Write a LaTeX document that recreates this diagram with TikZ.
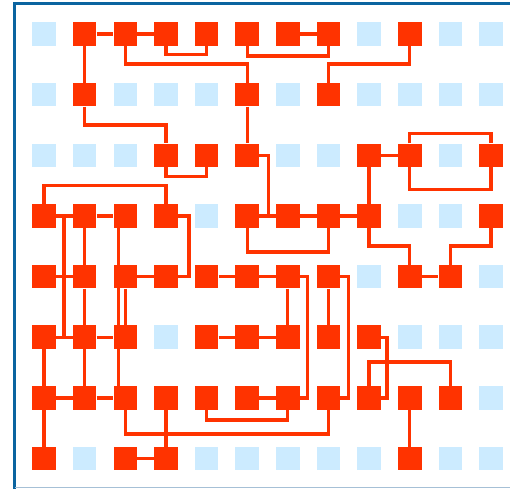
\documentclass[tikz,border=0pt]{standalone}
\usepackage{tikz}
\usetikzlibrary{backgrounds}
\definecolor{wirered}{HTML}{FF3300}
\definecolor{padblue}{HTML}{CCEBFF}
\definecolor{frameblue}{HTML}{0B64A0}
\definecolor{framelight}{HTML}{A6C0D6}

\begin{document}
\begin{tikzpicture}[x=40.64pt,y=-60.64pt,
  pad/.style={fill=padblue,minimum size=23.5pt,inner sep=0pt},
  cell/.style={fill=wirered,minimum size=23.5pt,inner sep=0pt},
  w/.style={draw=wirered,line width=3.3pt}]
  \useasboundingbox (-44pt,34pt) rectangle (466pt,-454pt);
  % frame
  \draw[frameblue,line width=2.6pt] (466pt,30.4pt) -- (-29.5pt,30.4pt) -- (-29.5pt,-455pt);
  \draw[framelight,line width=1pt] (-29.5pt,-453.4pt) -- (466pt,-453.4pt);
  % pads, then the used cells on top
  \foreach \j in {0,...,7}
    \foreach \i in {0,...,11}
      \node[pad] (n\i-\j) at (\i,\j) {};
  \foreach \j/\on in {0/{1,2,3,4,5,6,7,9},1/{1,5,7},2/{3,4,5,8,9,11},
      3/{0,1,2,3,5,6,7,8,11},4/{0,1,2,3,4,5,6,7,9,10},
      5/{0,1,2,4,5,6,7,8},6/{0,1,2,3,4,5,6,7,8,9,10},7/{0,2,3,9}}
    \foreach \i in \on
      \node[cell] (n\i-\j) at (\i,\j) {};
  \begin{scope}[on background layer]
    % row 0
    \draw[w] (n1-0) -- (n2-0) -- (n3-0);
    \draw[w] (n6-0) -- (n7-0);
    \draw[w] (n3-0) -- ++(0,-20.5pt) -| (n4-0);
    \draw[w] (n5-0) -- ++(0,-22pt) -| (n7-0);
    \draw[w] (n2-0) -- ++(0,-30pt) -| (n5-1);
    \draw[w] (n9-0) -- ++(0,-30pt) -| (n7-1);
    \draw[w] (n1-0) -- (n1-1);
    % row 1
    \draw[w] (n1-1) -- ++(0,-30.5pt) -| (n3-2);
    \draw[w] (n5-1) -- (n5-2);
    % row 2
    \draw[w] (n3-2) -- ++(0,-21.5pt) -| (n4-2);
    \draw[w] (n5-2) -- ++(21.5pt,0) |- (n5-3);
    \draw[w] (n8-2) -- (n9-2);
    \draw[w] (n8-2) -- (n8-3);
    \draw[w] (n9-2) -- ++(0,22pt) -| (n11-2);
    \draw[w] (n9-2) -- ++(0,-34.5pt) -| (n11-2);
    % row 3
    \draw[w] (n0-3) -- ++(0,30.5pt) -| (n3-3);
    \draw[w] (n0-3) -- (n1-3) -- (n2-3);
    \draw[w] (n3-3) -- ++(23pt,0) |- (n3-4);
    \draw[w] (n5-3) -- (n6-3) -- (n7-3) -- (n8-3);
    \draw[w] (n5-3) -- ++(0,-36pt) -| (n7-3);
    \draw[w] (n8-3) -- ++(0,-30pt) -| (n9-4);
    \draw[w] (n11-3) -- ++(0,-30pt) -| (n10-4);
    \draw[w] (n1-3) -- (n1-4) -- (n1-5) -- (n1-6);
    \draw[w] (n0-3) -- ++(20pt,0) |- (n0-5);
    \draw[w] ([xshift=-6.5pt]n2-3.center) -- ([xshift=-6.5pt]n2-6.center);
    % row 4
    \draw[w] (n0-4) -- (n1-4);
    \draw[w] (n2-4) -- (n3-4);
    \draw[w] (n4-4) -- (n5-4) -- (n6-4);
    \draw[w] (n2-4) -- (n2-5);
    \draw[w] (n6-4) -- (n6-5);
    \draw[w] (n7-4) -- (n7-5);
    \draw[w] (n6-4) -- ++(20pt,0) |- (n6-6);
    \draw[w] (n7-4) -- ++(20pt,0) |- (n7-6);
    \draw[w] (n9-4) -- (n10-4);
    % row 5
    \draw[w] (n0-5) -- (n1-5) -- (n2-5);
    \draw[w] (n4-5) -- (n5-5) -- (n6-5);
    \draw[w] (n8-5) -- ++(18pt,0) |- (n8-6);
    \draw[w] (n0-5) -- (n0-6) -- (n0-7);
    % row 6
    \draw[w] (n0-6) -- (n1-6) -- (n2-6);
    \draw[w] (n5-6) -- (n6-6);
    \draw[w] (n4-6) -- ++(0,-22pt) -| (n6-6);
    \draw[w] (n2-6) -- ++(0,-36pt) -| (n7-6);
    \draw[w] (n3-6) -- (n3-7);
    \draw[w] (n8-6) -- ++(0,36pt) -| (n10-6);
    \draw[w] (n9-6) -- (n9-7);
    % row 7
    \draw[w] (n2-7) -- (n3-7);
  \end{scope}
\end{tikzpicture}
\end{document}
